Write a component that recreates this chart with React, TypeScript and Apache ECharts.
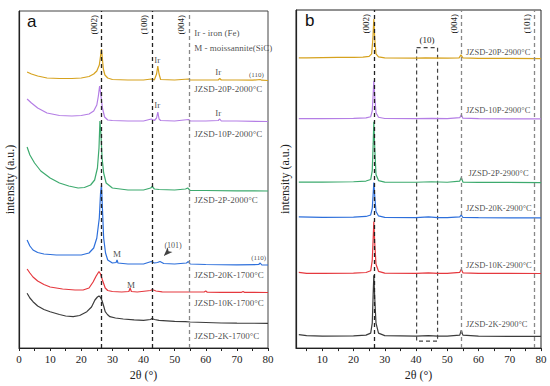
import React, { useEffect, useRef } from "react";
import * as echarts from "echarts";

// ---------- Panel a (2θ in degrees, intensity in a.u.) ----------
const a20P2000 = [[2.6,276],[4,274],[6,272],[9,270],[13,269.5],[17,269.5],[20,270],[22.5,271.5],[24,274],[25,277],[25.8,283],[26.2,292],[26.5,299],[26.8,289],[27.1,279],[27.6,273],[28.5,270],[30,268.5],[35,268],[40,268],[42.5,269],[43.5,268.2],[44.2,274],[44.6,282],[45,274],[45.5,268.5],[50,268],[54.5,269],[55,268],[60,268],[64,268],[64.5,269.5],[65,268],[70,268],[75,267.8],[77.5,268.5],[78,267.8],[80,267.5]];
const a10P2000 = [[2.6,249],[4,245],[6,240],[9,235],[13,232.5],[17,232],[20,232.5],[22.5,234],[24,237],[25,243],[25.5,252],[25.9,262],[26.3,253],[26.8,240],[27.5,231],[28.5,228],[30,227.5],[35,227],[40,227],[42.5,229],[43.5,227.5],[44.2,230],[44.6,236],[45,229],[45.5,227.5],[50,227],[54.5,228.5],[55,227],[60,227],[64,227.5],[64.5,229],[65,227],[70,227],[80,226.5]];
const a2P2000 = [[2.6,201],[3.5,193],[5,185],[7,177],[10,170],[13,165],[16,162],[19,160],[21,160.5],[23,163],[24.3,168],[25.2,180],[25.7,200],[26,227],[26.3,215],[26.7,190],[27.2,175],[28,165],[30,160],[35,158],[40,158],[42.3,160],[42.8,161.5],[43.5,159],[45,158.5],[50,158],[53.5,159],[54.2,160],[55,157.5],[60,157.5],[70,157.2],[80,157]];
const a20K1700 = [[2.6,108],[3.5,102],[4.5,98],[6,95.5],[8,94],[12,93],[16,93],[20,93],[22.5,95],[24,100],[25,110],[25.8,130],[26.2,155],[26.5,163],[26.8,140],[27.2,110],[27.8,95],[28.5,88],[30,85],[31.2,85.5],[31.5,88],[31.8,85],[35,84],[40,84],[42.5,86.5],[43.5,85],[44.5,85.5],[45.3,86.5],[46.5,84.5],[50,84],[53.8,85],[54.4,86.5],[55,84],[60,83.5],[70,83.2],[77,83.5],[77.5,85],[78,83],[80,83]];
const a10K1700 = [[2.6,79],[3.5,75],[4.5,71],[6,67],[8,63.5],[10,61],[14,59],[18,58],[20.6,58],[22.5,60],[23.8,66],[24.8,72],[25.7,76.5],[26.2,74],[26.8,68],[27.7,60],[28.5,57.5],[30,56.5],[33,56],[35.3,56.5],[35.7,60],[36.1,56.5],[38,56],[42.3,57.5],[42.8,58.5],[44,57],[46,56.2],[50,56],[54,56],[59.5,56],[60,57],[60.5,55.8],[65,55.7],[71.5,55.7],[72,56.5],[72.5,55.6],[80,55.5]];
const a2K1700 = [[2.6,54.7],[3.5,50],[4.5,46.3],[6,42],[8,38.5],[10,36.3],[13,33.5],[15,32],[17.4,31.3],[19.5,32.5],[21.8,36.3],[23.3,41],[24.4,48],[25.2,51],[25.7,52],[26.1,51],[26.6,48],[27.2,42],[27.7,36.3],[28.4,33.5],[29.2,31.3],[31,30],[33.5,29],[37,28.2],[40,27.7],[42.3,28.5],[42.7,29.5],[43.5,28.5],[45,27.7],[50,26.7],[53.5,26.3],[55,26],[60,25.5],[65,25],[70,24.8],[80,24.7]];

// ---------- Panel b ----------
const b20P2900 = [[2.5,291],[5,291],[10,291.3],[15,291.5],[20,291.5],[23,291.8],[25,292.5],[25.8,295],[26.2,310],[26.5,330],[26.8,310],[27.2,295],[28,292],[30,291],[40,290.8],[43,291],[50,290.7],[53.8,291],[54.4,294],[55,291],[60,290.5],[70,290.5],[80,290.2]];
const b10P2900 = [[2.5,230],[10,230],[20,230.3],[24,230.8],[25.5,232],[26,238],[26.3,255],[26.5,268],[26.8,252],[27.2,236],[28,231.5],[30,230.2],[40,230],[45,230.3],[50,230],[54,231],[54.5,234],[55,230.5],[60,230],[80,229.8]];
const b2P2900 = [[2.5,166.5],[10,166.5],[20,166.8],[24,167.5],[25.5,169],[26,178],[26.3,205],[26.5,227],[26.8,200],[27.2,174],[28,168],[30,166.5],[40,166.3],[45,166.8],[50,166.3],[54,167.5],[54.5,171],[55,166.5],[60,166.2],[80,166]];
const b20K2900 = [[2.5,131.5],[10,131],[20,131.3],[24,132],[25.5,133.5],[26,140],[26.3,155],[26.5,166],[26.8,152],[27.2,137],[28,132.5],[30,131],[40,130.8],[44,131.5],[47,130.8],[50,130.8],[54,131.5],[54.5,133.5],[55,131],[60,130.8],[80,130.5]];
const b10K2900 = [[2.5,76],[5,75],[10,75],[20,75.2],[24,75.8],[25.5,77.5],[26,88],[26.3,110],[26.5,127],[26.8,105],[27.2,84],[28,77],[30,75.2],[40,75],[44,75.5],[47,75],[50,75],[54,76],[54.5,79],[55,75.5],[60,75],[80,74.8]];
const b2K2900 = [[2.5,13.5],[5,12.5],[10,12],[20,12.2],[24,13],[25.5,15],[26,25],[26.3,55],[26.5,73],[26.8,50],[27.2,25],[28,15],[30,12.5],[40,12],[44,12.5],[47,12],[50,12],[54,13],[54.5,18],[55,13],[60,12],[70,11.8],[80,11.8]];

// tick labels
const ticksA = [0, 10, 20, 30, 40, 50, 60, 70, 80];
const minorA = [0, 5, 10, 15, 20, 25, 30, 35, 40, 45, 50, 55, 60, 65, 70, 75, 80];
const ticksB = [10, 20, 30, 40, 50, 60, 70, 80];
const minorB = [5, 10, 15, 20, 25, 30, 35, 40, 45, 50, 55, 60, 65, 70, 75, 80];

// reflection positions
const refA = [
  { x: 26.5, t: "(002)", c: "#222" },
  { x: 42.7, t: "(100)", c: "#222" },
  { x: 54.6, t: "(004)", c: "#888" },
];
const refB = [
  { x: 26.5, t: "(002)", c: "#222" },
  { x: 54.6, t: "(004)", c: "#888" },
  { x: 77.8, t: "(101)", c: "#888" },
];

const COLORS = ["#D6A21E", "#B47EE5", "#3DAA6E", "#2D6FDB", "#E5383E", "#3C3C3C"];
const SERIF = "'Liberation Serif', 'Times New Roman', serif";
const SANS = "'Liberation Sans', Arial, sans-serif";

const annotA = [
  { t: "Ir - iron (Fe)", x: 56.3, y: 315, s: 9, al: "left" },
  { t: "M - moissannite(SiC)", x: 56.3, y: 300, s: 9, al: "left" },
  { t: "Ir", x: 44.4, y: 288, s: 9, al: "center" },
  { t: "Ir", x: 64, y: 276, s: 9, al: "center" },
  { t: "(110)", x: 76.3, y: 273, s: 7, al: "center" },
  { t: "JZSD-20P-2000°C", x: 56.3, y: 259, s: 9, al: "left" },
  { t: "Ir", x: 44.4, y: 243, s: 9, al: "center" },
  { t: "Ir", x: 64, y: 235, s: 9, al: "center" },
  { t: "JZSD-10P-2000°C", x: 56.3, y: 214, s: 9, al: "left" },
  { t: "JZSD-2P-2000°C", x: 56.3, y: 148, s: 9, al: "left" },
  { t: "(101)", x: 49.5, y: 103, s: 8, al: "center" },
  { t: "M", x: 31.5, y: 94, s: 9, al: "center" },
  { t: "(110)", x: 77, y: 90, s: 7, al: "center" },
  { t: "JZSD-20K-1700°C", x: 56.3, y: 73, s: 9, al: "left" },
  { t: "M", x: 36, y: 63, s: 9, al: "center" },
  { t: "JZSD-10K-1700°C", x: 56.3, y: 45, s: 9, al: "left" },
  { t: "JZSD-2K-1700°C", x: 56.3, y: 12, s: 9, al: "left" },
];
const annotB = [
  { t: "JZSD-20P-2900°C", x: 56, y: 297, s: 8.5, al: "left" },
  { t: "JZSD-10P-2900°C", x: 56, y: 239, s: 8.5, al: "left" },
  { t: "JZSD-2P-2900°C", x: 56.8, y: 176, s: 8.5, al: "left" },
  { t: "JZSD-20K-2900°C", x: 56, y: 140, s: 8.5, al: "left" },
  { t: "JZSD-10K-2900°C", x: 56, y: 83, s: 8.5, al: "left" },
  { t: "JZSD-2K-2900°C", x: 56, y: 24, s: 8.5, al: "left" },
];

function lineSeries(data: number[][], color: string, gi: number, extra: any = {}) {
  return {
    type: "line",
    xAxisIndex: gi,
    yAxisIndex: gi,
    data,
    showSymbol: false,
    symbol: "none",
    smooth: false,
    lineStyle: { color, width: 1.2 },
    z: 3,
    ...extra,
  };
}

function markLines(refs: { x: number; t: string; c: string }[]) {
  return {
    symbol: "none",
    silent: true,
    data: refs.map((r) => ({
      xAxis: r.x,
      lineStyle: { color: r.c, type: [4, 3], width: 1.3 },
      label: {
        show: true,
        formatter: r.t,
        position: "insideEndTop",
        distance: [4, 3],
        fontFamily: SERIF,
        fontSize: 9,
        fontWeight: "normal",
        color: "#222",
      },
    })),
  };
}

function annotSeries(list: any[], gi: number) {
  return {
    type: "scatter",
    xAxisIndex: gi,
    yAxisIndex: gi,
    symbolSize: 0,
    silent: true,
    z: 5,
    data: list.map((a) => ({
      value: [a.x, a.y],
      label: {
        show: true,
        position: "inside",
        formatter: a.t,
        align: a.al,
        verticalAlign: "middle",
        fontFamily: SERIF,
        fontSize: a.s,
        fontWeight: "normal",
        color: "#222",
      },
    })),
  };
}

function xAxis(gi: number, min: number, max: number, labels: number[], ticks: number[]) {
  return {
    type: "value",
    gridIndex: gi,
    min,
    max,
    name: "2θ (°)",
    nameLocation: "middle",
    nameGap: 17,
    nameTextStyle: { fontFamily: SERIF, fontSize: 12, color: "#222" },
    splitLine: { show: false },
    axisLine: { show: true, onZero: false, lineStyle: { color: "#222", width: 1.2 } },
    axisTick: { show: true, customValues: ticks, length: 3, inside: false, lineStyle: { color: "#222" } },
    axisLabel: { customValues: labels, fontFamily: SERIF, fontSize: 11, color: "#222", margin: 5 },
  };
}

function yAxis(gi: number, max: number, gap: number) {
  return {
    type: "value",
    gridIndex: gi,
    min: 0,
    max,
    name: "intensity (a.u.)",
    nameLocation: "middle",
    nameGap: gap,
    nameTextStyle: { fontFamily: SERIF, fontSize: 12, color: "#222" },
    splitLine: { show: false },
    axisLine: { show: true, lineStyle: { color: "#222", width: 1.2 } },
    axisTick: { show: false },
    axisLabel: { show: false },
  };
}

export default function App() {
  const ref = useRef<HTMLDivElement>(null);
  useEffect(() => {
    if (!ref.current) return;
    const chart = echarts.init(ref.current, null, { renderer: "svg" });
    const aData = [a20P2000, a10P2000, a2P2000, a20K1700, a10K1700, a2K1700];
    const bData = [b20P2900, b10P2900, b2P2900, b20K2900, b10K2900, b2K2900];
    const series: any[] = [];
    aData.forEach((d, i) =>
      series.push(lineSeries(d, COLORS[i], 0, i === 0 ? { markLine: markLines(refA) } : {}))
    );
    bData.forEach((d, i) =>
      series.push(
        lineSeries(
          d,
          COLORS[i],
          1,
          i === 0
            ? {
                markLine: markLines(refB),
                markArea: {
                  silent: true,
                  itemStyle: { color: "transparent", borderColor: "#444", borderWidth: 1.2, borderType: [4, 3] },
                  label: { show: true, position: "top", formatter: "(10)", fontFamily: SERIF, fontSize: 9, fontWeight: "normal", color: "#222", distance: 2 },
                  data: [[{ coord: [40.2, 301.3] }, { coord: [46.9, 7] }]],
                },
              }
            : {}
        )
      )
    );
    series.push(annotSeries(annotA, 0));
    series.push(annotSeries(annotB, 1));
    series.push({
      type: "scatter",
      xAxisIndex: 0,
      yAxisIndex: 0,
      symbol: "arrow",
      symbolSize: [5, 9],
      symbolRotate: 135,
      itemStyle: { color: "#111" },
      silent: true,
      data: [[46.5, 92]],
      z: 6,
    });

    chart.setOption({
      animation: false,
      backgroundColor: "#fff",
      textStyle: { fontFamily: SERIF },
      grid: [
        { left: 19, right: 282, top: 11, bottom: 38, show: true, borderColor: "#444", borderWidth: 1 },
        { left: 296, right: 9, top: 10, bottom: 37, show: true, borderColor: "#222", borderWidth: 1 },
      ],
      xAxis: [xAxis(0, 0, 80, ticksA, minorA), xAxis(1, 1.6, 80, ticksB, minorB)],
      yAxis: [yAxis(0, 337, 3), yAxis(1, 339, 5)],
      graphic: [
        { type: "text", left: 27, top: 13, style: { text: "a", fontFamily: SANS, fontSize: 17, fill: "#111" } },
        { type: "text", left: 305, top: 12, style: { text: "b", fontFamily: SANS, fontSize: 17, fill: "#111" } },
      ],
      series,
    });
    return () => chart.dispose();
  }, []);
  return <div ref={ref} style={{ width: 550, height: 386, position: "absolute", left: 0, top: 0 }} />;
}
